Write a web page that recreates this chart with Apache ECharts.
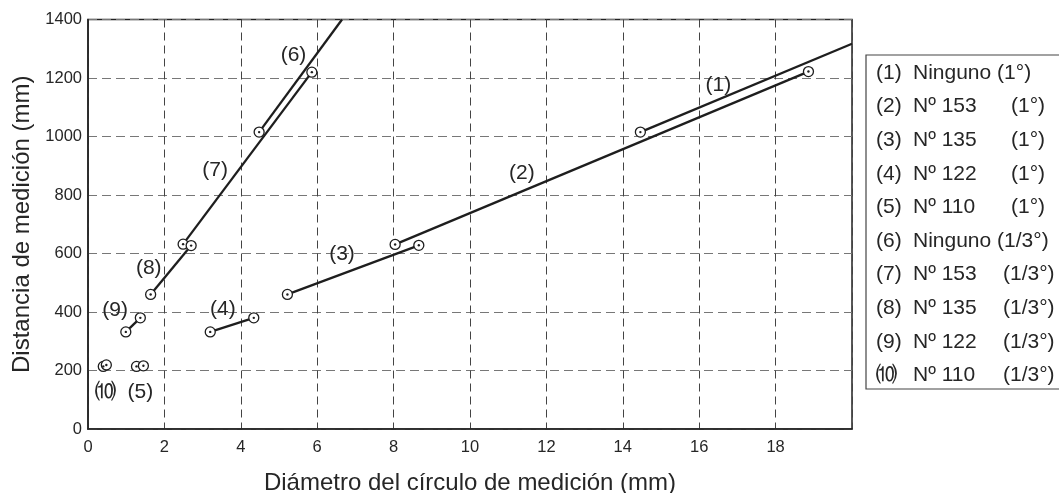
<!DOCTYPE html>
<html>
<head>
<meta charset="utf-8">
<script src="https://cdn.jsdelivr.net/npm/echarts@6/dist/echarts.min.js"></script>
<style>
html,body{margin:0;padding:0;background:#fff;}
#chart{width:1059px;height:493px;}
</style>
</head>
<body>
<div id="chart"></div>
<script>
// ---- data ----
const xTicks = [0, 2, 4, 6, 8, 10, 12, 14, 16, 18];
const yTicks = [0, 200, 400, 600, 800, 1000, 1200, 1400];

// line segments (x = diameter mm, y = distance mm)
const lineUpperFlat  = [[14.46, 1015], [20, 1317]];
const lineLowerFlat  = [[8.04, 631], [18.86, 1222]];
const segFlatLow     = [[5.22, 460], [8.66, 628]];
const lineUpperSteep = [[4.48, 1015], [6.65, 1400]];
const lineLowerSteep = [[2.49, 632], [5.86, 1220]];
const segSteepLow    = [[1.64, 460], [2.70, 627]];
const seg9           = [[0.99, 332], [1.37, 380]];
const seg4           = [[3.20, 332], [4.34, 380]];
const pair10         = [[0.40, 214], [0.48, 219]];
const pair5          = [[1.27, 214], [1.45, 216]];

// measured points (circles)
const measuredPoints = [
  [14.46, 1015], [18.86, 1222], [8.04, 631], [8.66, 628], [5.22, 460],
  [4.48, 1015], [5.86, 1220], [2.49, 632], [2.70, 627], [1.64, 460],
  [0.99, 332], [1.37, 380], [3.20, 332], [4.34, 380],
  [0.40, 214], [0.48, 219], [1.27, 214], [1.45, 216]
];

// in-plot labels
const plotLabels  = ['(1)', '(2)', '(3)', '(4)', '(5)', '(6)', '(7)', '(8)', '(9)', '⑽'];
const labelAnchor = [[16.5, 1176], [11.36, 875], [6.65, 597], [3.53, 410], [1.37, 125],
                     [5.38, 1277], [3.33, 884], [1.59, 549], [0.71, 406], [0.45, 125]];

// legend texts
const legendNum  = ['(1)', '(2)', '(3)', '(4)', '(5)', '(6)', '(7)', '(8)', '(9)', '⑽'];
const legendName = ['Ninguno (1°)', 'Nº 153', 'Nº 135', 'Nº 122', 'Nº 110',
                    'Ninguno (1/3°)', 'Nº 153', 'Nº 135', 'Nº 122', 'Nº 110'];
const legendDeg  = ['', '(1°)', '(1°)', '(1°)', '(1°)', '', '(1/3°)', '(1/3°)', '(1/3°)', '(1/3°)'];

const xName = 'Diámetro del círculo de medición (mm)';
const yName = 'Distancia de medición (mm)';

// ---- chart ----
const FONT = '"Liberation Sans", Arial, sans-serif';
const INK = '#1e1e1e';
const TXT = '#262626';
const chart = echarts.init(document.getElementById('chart'), null, {renderer: 'canvas'});

const segments = [lineUpperFlat, lineLowerFlat, segFlatLow, lineUpperSteep, lineLowerSteep,
                  segSteepLow, seg9, seg4, pair10, pair5];

const series = segments.map(seg => ({
  type: 'line',
  data: seg,
  showSymbol: false,
  symbol: 'none',
  lineStyle: {color: INK, width: 2.3},
  clip: true,
  silent: true,
  z: 3
}));

series.push({
  type: 'scatter',
  data: measuredPoints,
  symbol: 'circle',
  symbolSize: 10,
  itemStyle: {color: '#fff', borderColor: INK, borderWidth: 1.3, opacity: 1},
  silent: true,
  z: 4
});
series.push({
  type: 'scatter',
  data: measuredPoints,
  symbol: 'circle',
  symbolSize: 2.4,
  itemStyle: {color: INK, opacity: 1},
  silent: true,
  z: 5
});
series.push({
  type: 'scatter',
  data: labelAnchor.map((p, i) => ({value: p, name: plotLabels[i]})),
  symbolSize: 0,
  silent: true,
  z: 2,
  itemStyle: {opacity: 1},
  label: {
    show: true,
    position: 'inside',
    formatter: p => p.name,
    fontFamily: FONT,
    fontSize: 21,
    color: TXT,
    opacity: 1
  }
});

// legend graphic
const legendTop = 55, legendLeft = 866, rowH = 33.6, firstRow = 73;
const legendChildren = [{
  type: 'rect',
  shape: {x: legendLeft, y: legendTop, width: 220, height: 334},
  style: {fill: '#fff', stroke: '#444', lineWidth: 1.2}
}];
legendNum.forEach((n, i) => {
  const y = firstRow + i * rowH;
  const st = {fontFamily: FONT, fontSize: 21, fill: TXT, verticalAlign: 'middle', align: 'left'};
  legendChildren.push({type: 'text', x: 876, y: y, style: Object.assign({text: n}, st)});
  legendChildren.push({type: 'text', x: 913, y: y, style: Object.assign({text: legendName[i]}, st)});
  if (legendDeg[i]) {
    const dx = legendDeg[i].length > 4 ? 1003 : 1011;
    legendChildren.push({type: 'text', x: dx, y: y, style: Object.assign({text: legendDeg[i]}, st)});
  }
});

chart.setOption({
  animation: false,
  backgroundColor: '#fff',
  textStyle: {fontFamily: FONT},
  grid: {left: 88, right: 207, top: 19.5, bottom: 64, show: true, borderColor: '#222', borderWidth: 1.5,
         backgroundColor: 'transparent', outerBoundsMode: 'none', containLabel: false},
  xAxis: {
    type: 'value', min: 0, max: 20, interval: 2,
    name: xName, nameLocation: 'middle', nameGap: 42,
    nameTextStyle: {fontFamily: FONT, fontSize: 24, color: TXT},
    axisLine: {show: true, lineStyle: {color: '#222', width: 1.5}},
    axisTick: {show: false},
    axisLabel: {fontFamily: FONT, fontSize: 16.5, color: TXT, margin: 10,
      formatter: v => (xTicks.indexOf(v) >= 0 ? String(v) : '')},
    splitLine: {show: true, lineStyle: {color: '#444', type: [8, 5], width: 1}}
  },
  yAxis: {
    type: 'value', min: 0, max: 1400, interval: 200,
    name: yName, nameLocation: 'middle', nameGap: 54, nameRotate: 90,
    nameTextStyle: {fontFamily: FONT, fontSize: 24, color: TXT},
    axisLine: {show: true, lineStyle: {color: '#222', width: 1.5}},
    axisTick: {show: false},
    axisLabel: {fontFamily: FONT, fontSize: 16.5, color: TXT, margin: 6,
      formatter: v => (yTicks.indexOf(v) >= 0 ? String(v) : '')},
    splitLine: {show: true, lineStyle: {color: '#777', type: [9, 5], width: 1}}
  },
  series: series,
  graphic: [{type: 'group', children: legendChildren}]
});
</script>
</body>
</html>
